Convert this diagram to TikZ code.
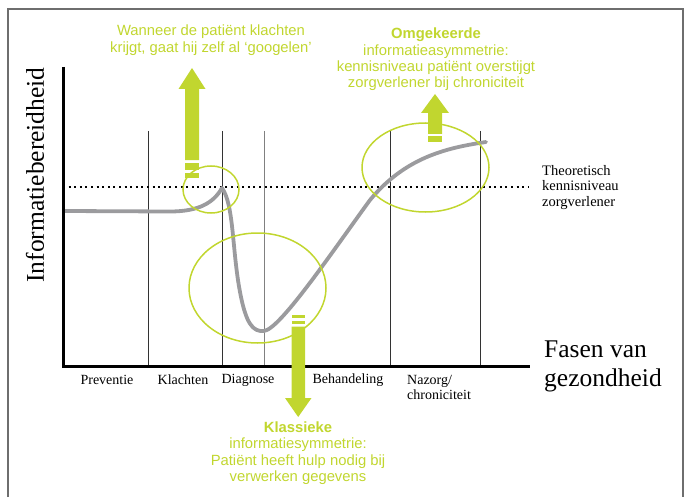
\documentclass[tikz,border=0pt]{standalone}
\usepackage{fontspec}
\setmainfont{Liberation Serif}
\setsansfont{Liberation Sans}
\definecolor{lime}{RGB}{193,214,47}
\definecolor{curvegray}{RGB}{155,155,158}
\definecolor{framegray}{RGB}{110,110,110}
\begin{document}
\begin{tikzpicture}[x=1pt,y=-1pt,
  frameline/.style={draw=framegray,line width=1.6pt},
  axisline/.style={draw=black,line width=3pt},
  gridline/.style={draw=black!80,line width=0.8pt},
  ring/.style={draw=lime,line width=1.5pt},
  arrowfill/.style={fill=lime,draw=none},
  greentext/.style={text=lime,font=\sffamily\fontsize{14.8}{16.4}\selectfont,align=center,inner sep=0pt},
  phaselabel/.style={font=\fontsize{14}{15}\selectfont,inner sep=0pt},
  serifbig/.style={font=\fontsize{25.5}{29}\selectfont,inner sep=0pt}]
\useasboundingbox (0,0) rectangle (684,497);
% frame
\draw[frameline] (8,497) -- (8,9) -- (683,9) -- (683,497);
% grid lines
\foreach \gx in {148,222,390,480}{\draw[gridline] (\gx,131) -- (\gx,365);}
\draw[draw=black!50,line width=0.9pt] (264,131) -- (264,365);
% dotted level
\draw[black,line width=2pt,dash pattern=on 2pt off 3.6pt] (63,187) -- (528,187);
% curve
\draw[curvegray,line width=3.8pt,line cap=round,line join=round]
  (65,211) -- (170,211.5) .. controls (200,211.5) and (214,202) .. (222,188)
  .. controls (234,205) and (232,250) .. (240,292)
  .. controls (246,324) and (253,332) .. (264,331)
  .. controls (280,329) and (330,255) .. (370,200)
  .. controls (405,158) and (445,148) .. (486,142);
% ellipses
\draw[ring] (211,189.5) ellipse [x radius=28,y radius=23.5];
\draw[ring] (257.5,288) ellipse [x radius=68.5,y radius=55];
\draw[ring] (425.5,167.5) ellipse [x radius=63.5,y radius=44.5];
% axes
\draw[axisline] (63,67) -- (63,366) -- (530,366);
% arrow 1 (up)
\fill[arrowfill] (192,68) -- (205.5,89) -- (199,89) -- (199,160) -- (185,160) -- (185,89) -- (178.5,89) -- cycle;
\fill[arrowfill] (185,163) rectangle (199,170);
\fill[arrowfill] (185,173) rectangle (199,177.5);
% arrow 2 (up)
\fill[arrowfill] (435,94) -- (449,113) -- (442,113) -- (442,134) -- (428,134) -- (428,113) -- (421,113) -- cycle;
\fill[arrowfill] (428,136.5) rectangle (442,142);
% arrow 3 (down)
\fill[arrowfill] (291.5,315) rectangle (305,317.5);
\fill[arrowfill] (291.5,320.5) rectangle (305,324);
\fill[arrowfill] (291.5,326.5) -- (305,326.5) -- (305,398) -- (311.5,398) -- (298.2,417) -- (285,398) -- (291.5,398) -- cycle;
% green texts
\node[greentext] (googelen) at (211,40) {Wanneer de patiënt klachten\\krijgt, gaat hij zelf al ‘googelen’};
\node[greentext] (omgekeerd) at (436,59.5) {\textbf{Omgekeerde}\\informatieasymmetrie:\\kennisniveau patiënt overstijgt\\zorgverlener bij chroniciteit};
\node[greentext] (klassiek) at (298,453) {\textbf{Klassieke}\\informatiesymmetrie:\\Patiënt heeft hulp nodig bij\\verwerken gegevens};
% axis labels
\node[serifbig,rotate=90] (ylabel) at (35,175) {Informatiebereidheid};
\node[serifbig,anchor=west,align=left] (xlabel) at (544,366) {Fasen van\\gezondheid};
\node[phaselabel,anchor=west,align=left,font=\fontsize{14.5}{15.5}\selectfont] (theory) at (542,187.5) {Theoretisch\\kennisniveau\\zorgverlener};
% phase labels
\node[phaselabel] (prev) at (107,380) {Preventie};
\node[phaselabel] (klacht) at (183,380) {Klachten};
\node[phaselabel] (diag) at (248,380) {Diagnose};
\node[phaselabel] (behand) at (348,380) {Behandeling};
\node[phaselabel,anchor=west,align=left] (nazorg) at (407,387.5) {Nazorg/\\chroniciteit};
\end{tikzpicture}
\end{document}
